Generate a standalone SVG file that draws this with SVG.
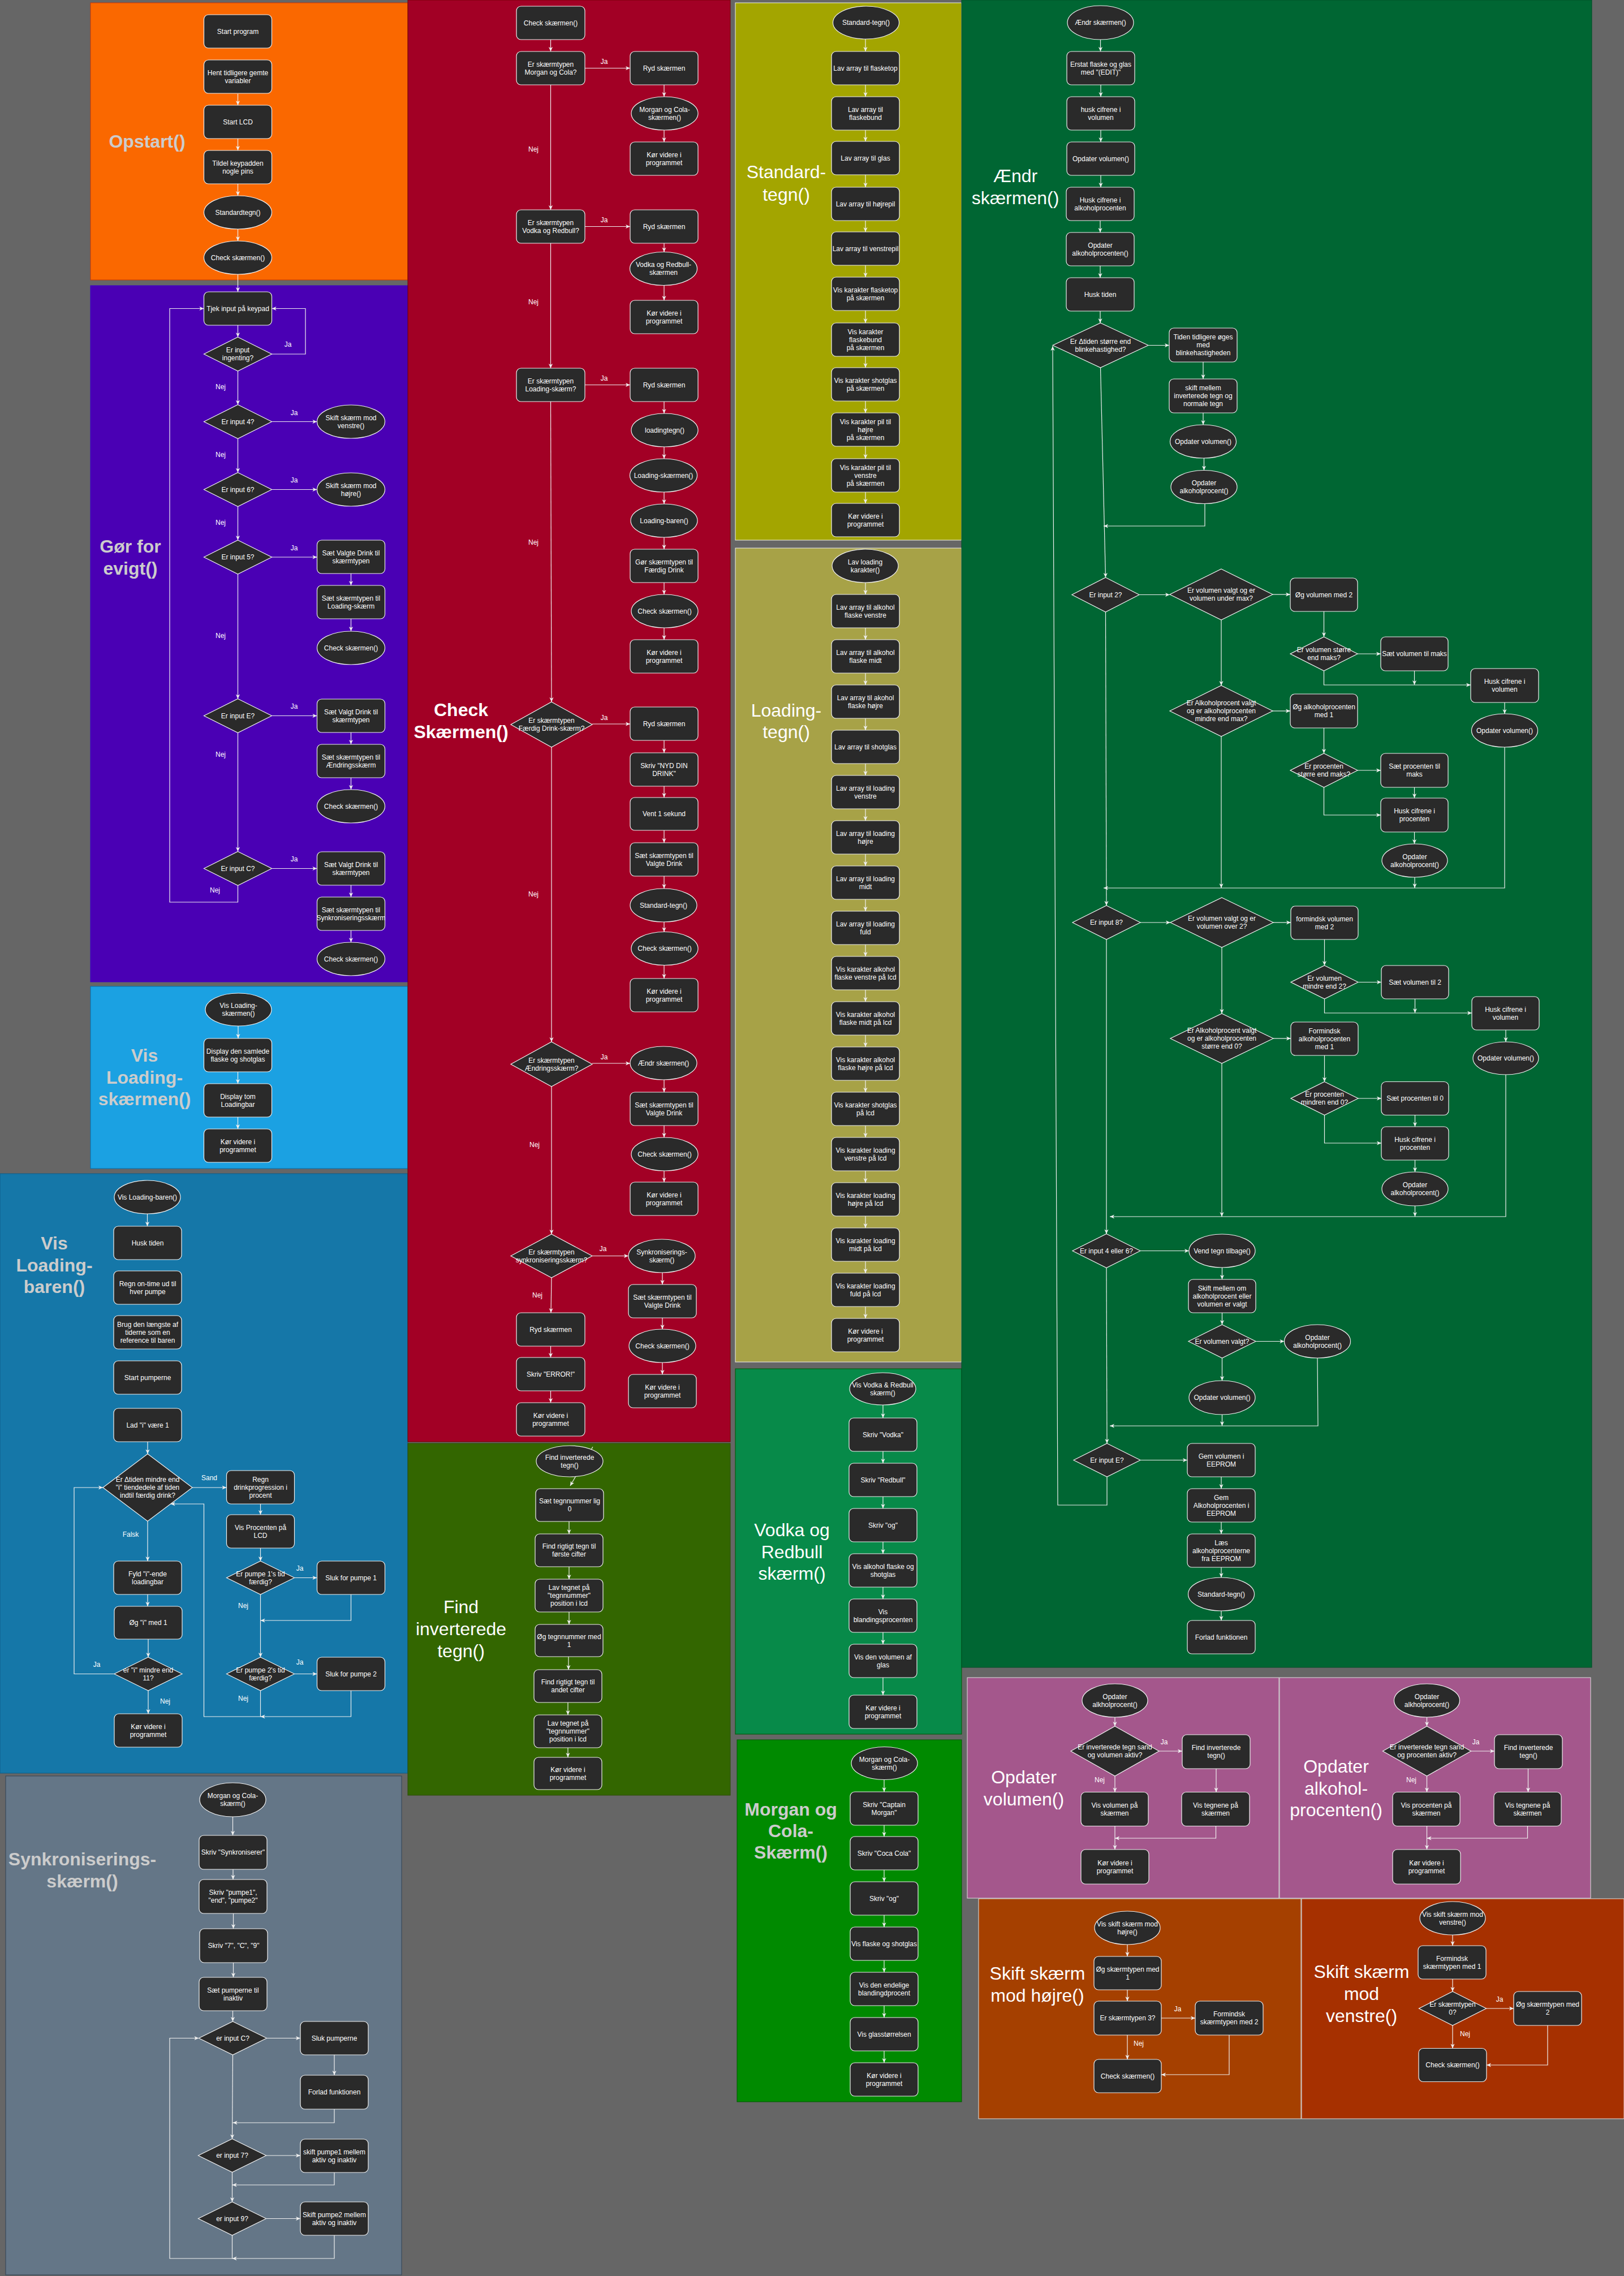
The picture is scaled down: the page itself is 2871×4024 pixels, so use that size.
<svg xmlns="http://www.w3.org/2000/svg" width="2871" height="4024" viewBox="0 0 2871 4024">
<defs>
<style>
.n{fill:#2a2a2a;stroke:#f0f0f0;stroke-width:1.2}
.t{font-family:"Liberation Sans",Arial,sans-serif;font-size:12px;fill:#ffffff;text-anchor:middle}
.lb{font-family:"Liberation Sans",Arial,sans-serif;font-size:12px;fill:#ffffff;text-anchor:middle}
.e{fill:none;stroke:#f0f0f0;stroke-width:1.2;marker-end:url(#a)}
.ti{font-family:"Liberation Sans",Arial,sans-serif;font-size:32px;text-anchor:middle}
.tg{font-weight:bold;fill:#cccccc}
.tw{fill:#ffffff}
.twb{font-weight:bold;fill:#ffffff}
</style>
<marker id="a" viewBox="0 0 10 10" refX="9" refY="5" markerWidth="9" markerHeight="9" markerUnits="userSpaceOnUse" orient="auto"><path d="M0,1 L9,5 L0,9 L2.5,5 z" fill="#f0f0f0"/></marker>
</defs>
<rect x="0" y="0" width="2871" height="4024" fill="#666666"/>
<g id="panels">
<rect x="160" y="5" width="561" height="490" fill="#FA6800" stroke="#C73500"/>
<rect x="160" y="505" width="561" height="1231" fill="#4A00B4" stroke="#3700CC"/>
<rect x="160" y="1744" width="561" height="322" fill="#1BA1E2" stroke="#006EAF"/>
<rect x="0" y="2075" width="721" height="1060" fill="#1577A8" stroke="#0E5C85"/>
<rect x="10" y="3140" width="700" height="882" fill="#647687" stroke="#314354"/>
<rect x="721" y="0" width="570" height="2549" fill="#A20025" stroke="#6F0000"/>
<rect x="721" y="2552" width="570" height="622" fill="#336600" stroke="#2D4C00"/>
<rect x="1300" y="5" width="400" height="950" fill="#A3A500" stroke="#f0f0f0"/>
<rect x="1300" y="969" width="400" height="1439" fill="#A7A247" stroke="#f0f0f0"/>
<rect x="1300" y="2420" width="400" height="646" fill="#078A49" stroke="#005700"/>
<rect x="1303" y="3076" width="397" height="640" fill="#008A00" stroke="#005700"/>
<rect x="1700" y="0" width="1114" height="2948" fill="#006633" stroke="#004D26"/>
<rect x="1710" y="2966" width="551" height="390" fill="#A4578C" stroke="#e0e0e0"/>
<rect x="2262" y="2966" width="550" height="390" fill="#A4578C" stroke="#e0e0e0"/>
<rect x="1730" y="3357" width="570" height="389" fill="#A54000" stroke="#e0e0e0"/>
<rect x="2301" y="3357" width="570" height="389" fill="#A63000" stroke="#e0e0e0"/>
</g>
<g id="titles">
<text class="ti tg" x="260" y="261">Opstart()</text>
<text class="ti tg" x="230.5" y="977">Gør for<tspan x="230.5" dy="39">evigt()</tspan></text>
<text class="ti tg" x="255.5" y="1877">Vis<tspan x="255.5" dy="38.5">Loading-</tspan><tspan x="255.5" dy="38.5">skærmen()</tspan></text>
<text class="ti tg" x="96" y="2209">Vis<tspan x="96" dy="38.5">Loading-</tspan><tspan x="96" dy="38.5">baren()</tspan></text>
<text class="ti tg" x="145.5" y="3298">Synkroniserings-<tspan x="145.5" dy="39">skærm()</tspan></text>
<text class="ti twb" x="815" y="1266">Check<tspan x="815" dy="39">Skærmen()</tspan></text>
<text class="ti tw" x="815" y="2852">Find<tspan x="815" dy="39">inverterede</tspan><tspan x="815" dy="39">tegn()</tspan></text>
<text class="ti tw" x="1390" y="315">Standard-<tspan x="1390" dy="40">tegn()</tspan></text>
<text class="ti tw" x="1390" y="1267">Loading-<tspan x="1390" dy="38">tegn()</tspan></text>
<text class="ti tw" x="1400" y="2716">Vodka og<tspan x="1400" dy="38.5">Redbull</tspan><tspan x="1400" dy="38.5">skærm()</tspan></text>
<text class="ti tg" x="1398" y="3210">Morgan og<tspan x="1398" dy="38">Cola-</tspan><tspan x="1398" dy="38">Skærm()</tspan></text>
<text class="ti tw" x="1795" y="322">Ændr<tspan x="1795" dy="39">skærmen()</tspan></text>
<text class="ti tw" x="1810" y="3153">Opdater<tspan x="1810" dy="39">volumen()</tspan></text>
<text class="ti tw" x="2362" y="3134">Opdater<tspan x="2362" dy="38.5">alkohol-</tspan><tspan x="2362" dy="38.5">procenten()</tspan></text>
<text class="ti tw" x="1834" y="3500">Skift skærm<tspan x="1834" dy="39">mod højre()</tspan></text>
<text class="ti tw" x="2407" y="3497">Skift skærm<tspan x="2407" dy="39">mod</tspan><tspan x="2407" dy="39">venstre()</tspan></text>
</g>
<g id="connectors">
<!-- Opstart -->
<path class="e" d="M420.5,166 V186"/>
<path class="e" d="M420.5,245 V266"/>
<path class="e" d="M420.5,325 V346"/>
<path class="e" d="M420.5,405 V426"/>
<path class="e" d="M420.5,485 V516"/>
<!-- Gør for evigt -->
<path class="e" d="M420.5,575 V596"/>
<path class="e" d="M480.5,626 H540 V545.5 H480.5"/>
<path class="e" d="M420.5,656 V715.5"/>
<path class="e" d="M480.5,745.5 H560.5"/>
<path class="e" d="M420.5,775.5 V835.5"/>
<path class="e" d="M480.5,865.5 H560.5"/>
<path class="e" d="M420.5,895.5 V955"/>
<path class="e" d="M480.5,985 H560.5"/>
<path class="e" d="M620.5,1014 V1035"/>
<path class="e" d="M620.5,1094 V1116"/>
<path class="e" d="M420.5,1015 V1235.5"/>
<path class="e" d="M480.5,1265.5 H560.5"/>
<path class="e" d="M620.5,1295 V1316"/>
<path class="e" d="M620.5,1375 V1396"/>
<path class="e" d="M420.5,1295.5 V1505.5"/>
<path class="e" d="M480.5,1535.5 H560.5"/>
<path class="e" d="M620.5,1565 V1586"/>
<path class="e" d="M620.5,1645 V1666"/>
<path class="e" d="M420.5,1565.5 V1595 H300 V545.5 H360.5"/>
<!-- Vis Loading-skaermen -->
<path class="e" d="M421,1814 V1836"/>
<path class="e" d="M420.5,1895 V1916"/>
<path class="e" d="M420.5,1975 V1996"/>
<!-- Vis Loading-baren -->
<path class="e" d="M260.5,2146 V2168"/>
<path class="e" d="M261,2549 V2570.5"/>
<path class="e" d="M340,2630 H400.5"/>
<path class="e" d="M460.5,2659 V2678"/>
<path class="e" d="M460.5,2737 V2760"/>
<path class="e" d="M520.5,2789.5 H560.5"/>
<path class="e" d="M620.5,2819 V2865 H460.5"/>
<path class="e" d="M460.5,2819 V2930"/>
<path class="e" d="M520.5,2959.5 H560.5"/>
<path class="e" d="M620.5,2989 V3035 H460.5"/>
<path class="e" d="M460.5,2989 V3035 H360.5 V2659 H301.5"/>
<path class="e" d="M261,2689.5 V2760"/>
<path class="e" d="M261,2819 V2840"/>
<path class="e" d="M262,2898 V2930"/>
<path class="e" d="M202,2959.5 H131 V2630 H182"/>
<path class="e" d="M262,2989 V3030"/>
<!-- Synkronisering -->
<path class="e" d="M411.5,3212 V3245"/>
<path class="e" d="M412,3305 V3323"/>
<path class="e" d="M412.5,3383 V3410"/>
<path class="e" d="M412.5,3470 V3496"/>
<path class="e" d="M411.5,3555 V3574"/>
<path class="e" d="M471.5,3603.5 H531"/>
<path class="e" d="M591,3633 V3669"/>
<path class="e" d="M591,3729 V3753 H411.5"/>
<path class="e" d="M411.5,3633 L410.5,3781.5"/>
<path class="e" d="M470.5,3811 H531"/>
<path class="e" d="M591,3841 V3863 H410.5"/>
<path class="e" d="M410.5,3840.5 V3893"/>
<path class="e" d="M470.5,3922.5 H531"/>
<path class="e" d="M591,3952 V3993 H410.5"/>
<path class="e" d="M410.5,3952 V3993 H300 V3603.5 H351.5"/>
<!-- Check skaermen -->
<path class="e" d="M973.5,70 V91"/>
<path class="e" d="M1034,120.5 H1114"/>
<path class="e" d="M1174,150 V171"/>
<path class="e" d="M1174,230 V251"/>
<path class="e" d="M973.5,150 V371"/>
<path class="e" d="M1034,400.5 H1114"/>
<path class="e" d="M1174,430 V445.5"/>
<path class="e" d="M1174,504.5 V531"/>
<path class="e" d="M973.5,430 V651"/>
<path class="e" d="M1034,680.5 H1114"/>
<path class="e" d="M1174,710 V731"/>
<path class="e" d="M1174,790 V811"/>
<path class="e" d="M1174,870 V891"/>
<path class="e" d="M1174,950 V971"/>
<path class="e" d="M1174,1030 V1051"/>
<path class="e" d="M1174,1110 V1131"/>
<path class="e" d="M973.5,710 L975,1241"/>
<path class="e" d="M1047,1280 H1114"/>
<path class="e" d="M1174,1309 V1331"/>
<path class="e" d="M1174,1390 V1410"/>
<path class="e" d="M1174,1468 V1490"/>
<path class="e" d="M1174,1549 V1571"/>
<path class="e" d="M1174,1630 V1647.5"/>
<path class="e" d="M1174,1706.5 V1730"/>
<path class="e" d="M975,1321 V1842"/>
<path class="e" d="M1047,1880 H1114"/>
<path class="e" d="M1174,1909 V1931"/>
<path class="e" d="M1174,1990 V2011"/>
<path class="e" d="M1174,2070 V2090"/>
<path class="e" d="M975,1921 V2182"/>
<path class="e" d="M1047,2220.5 H1111"/>
<path class="e" d="M1171,2250 V2271"/>
<path class="e" d="M1171,2330 V2350"/>
<path class="e" d="M1171,2409 V2430"/>
<path class="e" d="M975,2259 L974,2321"/>
<path class="e" d="M973.5,2380 V2400"/>
<path class="e" d="M973.5,2459 V2480"/>
<!-- Find inverterede -->
<path class="e" d="M1048,2558 L1008,2627"/>
<path class="e" d="M1006,2690 V2712"/>
<path class="e" d="M1006,2770 V2792"/>
<path class="e" d="M1006,2850 V2872"/>
<path class="e" d="M1005,2929 V2952"/>
<path class="e" d="M1004,3010 V3032"/>
<path class="e" d="M1004,3090 V3107"/>
<!-- Standard-tegn -->
<path class="e" d="M1530,69 V91"/>
<path class="e" d="M1530,150 V171"/>
<path class="e" d="M1530,230 V250"/>
<path class="e" d="M1530,309 V331"/>
<path class="e" d="M1530,390 V410"/>
<path class="e" d="M1530,469 V490"/>
<path class="e" d="M1530,549 V571"/>
<path class="e" d="M1530,630 V650"/>
<path class="e" d="M1530,709 V730"/>
<path class="e" d="M1530,789 V811"/>
<path class="e" d="M1530,870 V890"/>
<!-- Loading-tegn -->
<path class="e" d="M1530,1030 V1051"/>
<path class="e" d="M1530,1110 V1131"/>
<path class="e" d="M1530,1190 V1211"/>
<path class="e" d="M1530,1270 V1291"/>
<path class="e" d="M1530,1350 V1371"/>
<path class="e" d="M1530,1430 V1451"/>
<path class="e" d="M1530,1510 V1531"/>
<path class="e" d="M1530,1590 V1611"/>
<path class="e" d="M1530,1670 V1691"/>
<path class="e" d="M1530,1750 V1771"/>
<path class="e" d="M1530,1830 V1851"/>
<path class="e" d="M1530,1910 V1931"/>
<path class="e" d="M1530,1990 V2011"/>
<path class="e" d="M1530,2070 V2091"/>
<path class="e" d="M1530,2150 V2171"/>
<path class="e" d="M1530,2230 V2251"/>
<path class="e" d="M1530,2310 V2331"/>
<!-- Vodka -->
<path class="e" d="M1561,2484 V2507"/>
<path class="e" d="M1561,2566 V2587"/>
<path class="e" d="M1561,2646 V2667"/>
<path class="e" d="M1561,2726 V2747"/>
<path class="e" d="M1561,2806 V2827"/>
<path class="e" d="M1561,2886 V2907"/>
<path class="e" d="M1561,2966 V2997"/>
<!-- Morgan -->
<path class="e" d="M1563,3146.5 V3168"/>
<path class="e" d="M1563,3227 V3247"/>
<path class="e" d="M1563,3306 V3327"/>
<path class="e" d="M1563,3386 V3407"/>
<path class="e" d="M1563,3466 V3487"/>
<path class="e" d="M1563,3546 V3567"/>
<path class="e" d="M1563,3626 V3647"/>
<!-- Aendr -->
<path class="e" d="M1945.5,70 V91"/>
<path class="e" d="M1946,150 V171"/>
<path class="e" d="M1946,230 V251"/>
<path class="e" d="M1946,310 V331"/>
<path class="e" d="M1945,390 V411"/>
<path class="e" d="M1945,470 V491"/>
<path class="e" d="M1945,550 V571"/>
<path class="e" d="M2030,610.5 H2067"/>
<path class="e" d="M2127,640 V670"/>
<path class="e" d="M2127,730 V751"/>
<path class="e" d="M2128.5,810 V831.5"/>
<path class="e" d="M2130,890.5 V930 H1951"/>
<path class="e" d="M1945.5,650 L1954.5,1021"/>
<path class="e" d="M2014,1051.5 H2068"/>
<path class="e" d="M2250,1051 H2281"/>
<path class="e" d="M2340.5,1081 V1126"/>
<path class="e" d="M2400,1156 H2441"/>
<path class="e" d="M2340.5,1186 V1211 H2600"/>
<path class="e" d="M2500.5,1186 V1211"/>
<path class="e" d="M2660,1242 V1262"/>
<path class="e" d="M2660,1321 V1570 H1951"/>
<path class="e" d="M2159,1096 V1212"/>
<path class="e" d="M2250,1257 H2281"/>
<path class="e" d="M2340.5,1287 V1332"/>
<path class="e" d="M2400,1362 H2441"/>
<path class="e" d="M2500.5,1392 V1411"/>
<path class="e" d="M2340.5,1392 V1441 H2441"/>
<path class="e" d="M2500.5,1471 V1492"/>
<path class="e" d="M2501,1551 V1570"/>
<path class="e" d="M2159,1302 V1570"/>
<path class="e" d="M1954.5,1082 L1956,1601"/>
<path class="e" d="M2016,1631 H2069"/>
<path class="e" d="M2251,1631 H2282"/>
<path class="e" d="M2341.5,1661 V1707"/>
<path class="e" d="M2401,1736.5 H2442"/>
<path class="e" d="M2341.5,1766 V1791 H2602"/>
<path class="e" d="M2501.5,1766 V1791"/>
<path class="e" d="M2662,1821 V1842"/>
<path class="e" d="M2662,1900 V2151 H1962"/>
<path class="e" d="M2160,1675 V1792"/>
<path class="e" d="M2251,1836 H2282"/>
<path class="e" d="M2341.5,1866 V1912.5"/>
<path class="e" d="M2401,1942 H2442"/>
<path class="e" d="M2501.5,1971.5 V1992"/>
<path class="e" d="M2341.5,1971.5 V2021 H2442"/>
<path class="e" d="M2501.5,2051 V2072"/>
<path class="e" d="M2501.5,2132 V2151"/>
<path class="e" d="M2160,1880 V2151"/>
<path class="e" d="M1956,1661 V2181.5"/>
<path class="e" d="M2016,2211.5 H2102"/>
<path class="e" d="M2160.5,2241 V2262"/>
<path class="e" d="M2160.5,2321 V2342"/>
<path class="e" d="M2220,2371.5 H2270.5"/>
<path class="e" d="M2160.5,2401 V2441"/>
<path class="e" d="M2329,2401 L2330,2521 H1962"/>
<path class="e" d="M2160.5,2501 V2521"/>
<path class="e" d="M1956,2241.5 L1957,2552"/>
<path class="e" d="M2016,2581.5 H2099"/>
<path class="e" d="M2159,2611 V2632"/>
<path class="e" d="M2159,2691 V2712"/>
<path class="e" d="M2159,2771 V2789"/>
<path class="e" d="M2159,2848 V2865"/>
<path class="e" d="M1957,2611 V2661 H1870 L1861,612"/>
<!-- Opdater volumen -->
<path class="e" d="M1971,3036 V3052"/>
<path class="e" d="M2049,3096 H2090"/>
<path class="e" d="M2150,3127 V3168.5"/>
<path class="e" d="M1971,3140 V3168.5"/>
<path class="e" d="M2149.5,3228.5 V3250 H1971"/>
<path class="e" d="M1971,3228.5 V3270"/>
<!-- Opdater alkohol -->
<path class="e" d="M2522.5,3036 V3052"/>
<path class="e" d="M2600.5,3096 H2642"/>
<path class="e" d="M2701.5,3127 V3168.5"/>
<path class="e" d="M2522.5,3140 V3168.5"/>
<path class="e" d="M2700.5,3228.5 V3250 H2522.5"/>
<path class="e" d="M2522.5,3228.5 V3270"/>
<!-- Skift hoejre -->
<path class="e" d="M1993,3438 V3459"/>
<path class="e" d="M1993,3518 V3538"/>
<path class="e" d="M2053,3568 H2113"/>
<path class="e" d="M1993,3598 V3641"/>
<path class="e" d="M2173,3598 V3668 H2053"/>
<!-- Skift venstre -->
<path class="e" d="M2568,3421 V3440"/>
<path class="e" d="M2568,3499 V3521"/>
<path class="e" d="M2627.5,3551 H2676"/>
<path class="e" d="M2568,3581 V3621.5"/>
<path class="e" d="M2736,3581 V3651 H2628"/>
</g>
<g id="edge-labels">
<text class="lb" x="509" y="613">Ja</text>
<text class="lb" x="390" y="688">Nej</text>
<text class="lb" x="520" y="734">Ja</text>
<text class="lb" x="390" y="808">Nej</text>
<text class="lb" x="520" y="853">Ja</text>
<text class="lb" x="390" y="928">Nej</text>
<text class="lb" x="520" y="973">Ja</text>
<text class="lb" x="390" y="1128">Nej</text>
<text class="lb" x="520" y="1253">Ja</text>
<text class="lb" x="390" y="1338">Nej</text>
<text class="lb" x="520" y="1523">Ja</text>
<text class="lb" x="380" y="1578">Nej</text>
<text class="lb" x="370" y="2617">Sand</text>
<text class="lb" x="530" y="2777">Ja</text>
<text class="lb" x="430" y="2843">Nej</text>
<text class="lb" x="530" y="2943">Ja</text>
<text class="lb" x="430" y="3007">Nej</text>
<text class="lb" x="231" y="2717">Falsk</text>
<text class="lb" x="171" y="2947">Ja</text>
<text class="lb" x="292" y="3012">Nej</text>
<text class="lb" x="1068" y="113">Ja</text>
<text class="lb" x="943" y="268">Nej</text>
<text class="lb" x="1068" y="393">Ja</text>
<text class="lb" x="943" y="538">Nej</text>
<text class="lb" x="1068" y="673">Ja</text>
<text class="lb" x="943" y="963">Nej</text>
<text class="lb" x="1068" y="1273">Ja</text>
<text class="lb" x="943" y="1585">Nej</text>
<text class="lb" x="1068" y="1873">Ja</text>
<text class="lb" x="945" y="2028">Nej</text>
<text class="lb" x="1066" y="2212">Ja</text>
<text class="lb" x="950" y="2294">Nej</text>
<text class="lb" x="2058" y="3084">Ja</text>
<text class="lb" x="1944" y="3151">Nej</text>
<text class="lb" x="2609" y="3084">Ja</text>
<text class="lb" x="2495" y="3151">Nej</text>
<text class="lb" x="2082" y="3556">Ja</text>
<text class="lb" x="2013" y="3617">Nej</text>
<text class="lb" x="2651" y="3539">Ja</text>
<text class="lb" x="2590" y="3600">Nej</text>
</g>
<!-- Opstart nodes -->
<g id="op1"><rect class="n" x="360.5" y="26" width="120" height="59" rx="8"/><text class="t" x="420.5" y="59.5">Start program</text></g>
<g id="op2"><rect class="n" x="360.5" y="106" width="120" height="59" rx="8"/><text class="t" x="420.5" y="132.5">Hent tidligere gemte<tspan x="420.5" dy="14">variabler</tspan></text></g>
<g id="op3"><rect class="n" x="360.5" y="186" width="120" height="59" rx="8"/><text class="t" x="420.5" y="219.5">Start LCD</text></g>
<g id="op4"><rect class="n" x="360.5" y="266" width="120" height="59" rx="8"/><text class="t" x="420.5" y="292.5">Tildel keypadden<tspan x="420.5" dy="14">nogle pins</tspan></text></g>
<g id="op5"><ellipse class="n" cx="420.5" cy="375.5" rx="60" ry="29.5"/><text class="t" x="420.5" y="379.5">Standardtegn()</text></g>
<g id="op6"><ellipse class="n" cx="420.5" cy="455.5" rx="60" ry="29.5"/><text class="t" x="420.5" y="459.5">Check skærmen()</text></g>
<!-- Gør for evigt -->
<g id="g1"><rect class="n" x="360.5" y="516" width="120" height="59" rx="8"/><text class="t" x="420.5" y="549.5">Tjek input på keypad</text></g>
<g id="g2"><polygon class="n" points="420.5,596 480.5,626 420.5,656 360.5,626"/><text class="t" x="420.5" y="623">Er input<tspan x="420.5" dy="14">ingenting?</tspan></text></g>
<g id="g3"><polygon class="n" points="420.5,715.5 480.5,745.5 420.5,775.5 360.5,745.5"/><text class="t" x="420.5" y="749.5">Er input 4?</text></g>
<g id="g4"><ellipse class="n" cx="620.5" cy="745.5" rx="60" ry="29.5"/><text class="t" x="620.5" y="742.5">Skift skærm mod<tspan x="620.5" dy="14">venstre()</tspan></text></g>
<g id="g5"><polygon class="n" points="420.5,835.5 480.5,865.5 420.5,895.5 360.5,865.5"/><text class="t" x="420.5" y="869.5">Er input 6?</text></g>
<g id="g6"><ellipse class="n" cx="620.5" cy="865.5" rx="60" ry="29.5"/><text class="t" x="620.5" y="862.5">Skift skærm mod<tspan x="620.5" dy="14">højre()</tspan></text></g>
<g id="g7"><polygon class="n" points="420.5,955 480.5,985 420.5,1015 360.5,985"/><text class="t" x="420.5" y="989">Er input 5?</text></g>
<g id="g8"><rect class="n" x="560.5" y="955" width="120" height="59" rx="8"/><text class="t" x="620.5" y="981.5">Sæt Valgte Drink til<tspan x="620.5" dy="14">skærmtypen</tspan></text></g>
<g id="g9"><rect class="n" x="560.5" y="1035" width="120" height="59" rx="8"/><text class="t" x="620.5" y="1061.5">Sæt skærmtypen til<tspan x="620.5" dy="14">Loading-skærm</tspan></text></g>
<g id="g10"><ellipse class="n" cx="620.5" cy="1145.5" rx="60" ry="29.5"/><text class="t" x="620.5" y="1149.5">Check skærmen()</text></g>
<g id="g11"><polygon class="n" points="420.5,1235.5 480.5,1265.5 420.5,1295.5 360.5,1265.5"/><text class="t" x="420.5" y="1269.5">Er input E?</text></g>
<g id="g12"><rect class="n" x="560.5" y="1236" width="120" height="59" rx="8"/><text class="t" x="620.5" y="1262.5">Sæt Valgt Drink til<tspan x="620.5" dy="14">skærmtypen</tspan></text></g>
<g id="g13"><rect class="n" x="560.5" y="1316" width="120" height="59" rx="8"/><text class="t" x="620.5" y="1342.5">Sæt skærmtypen til<tspan x="620.5" dy="14">Ændringsskærm</tspan></text></g>
<g id="g14"><ellipse class="n" cx="620.5" cy="1425.5" rx="60" ry="29.5"/><text class="t" x="620.5" y="1429.5">Check skærmen()</text></g>
<g id="g15"><polygon class="n" points="420.5,1505.5 480.5,1535.5 420.5,1565.5 360.5,1535.5"/><text class="t" x="420.5" y="1539.5">Er input C?</text></g>
<g id="g16"><rect class="n" x="560.5" y="1506" width="120" height="59" rx="8"/><text class="t" x="620.5" y="1532.5">Sæt Valgt Drink til<tspan x="620.5" dy="14">skærmtypen</tspan></text></g>
<g id="g17"><rect class="n" x="560.5" y="1586" width="120" height="59" rx="8"/><text class="t" x="620.5" y="1612.5">Sæt skærmtypen til<tspan x="620.5" dy="14">Synkroniseringsskærm</tspan></text></g>
<g id="g18"><ellipse class="n" cx="620.5" cy="1695.5" rx="60" ry="29.5"/><text class="t" x="620.5" y="1699.5">Check skærmen()</text></g>
<!-- Vis Loading-skærmen -->
<g id="vl1"><ellipse class="n" cx="421.5" cy="1785" rx="58.5" ry="29"/><text class="t" x="421.5" y="1782">Vis Loading-<tspan x="421.5" dy="14">skærmen()</tspan></text></g>
<g id="vl2"><rect class="n" x="360.5" y="1836" width="120" height="59" rx="8"/><text class="t" x="420.5" y="1862.5">Display den samlede<tspan x="420.5" dy="14">flaske og shotglas</tspan></text></g>
<g id="vl3"><rect class="n" x="360.5" y="1916" width="120" height="59" rx="8"/><text class="t" x="420.5" y="1942.5">Display tom<tspan x="420.5" dy="14">Loadingbar</tspan></text></g>
<g id="vl4"><rect class="n" x="360.5" y="1996" width="120" height="59" rx="8"/><text class="t" x="420.5" y="2022.5">Kør videre i<tspan x="420.5" dy="14">programmet</tspan></text></g>
<!-- Vis Loading-baren -->
<g id="lb1"><ellipse class="n" cx="260.5" cy="2116.5" rx="58.5" ry="29.5"/><text class="t" x="260.5" y="2120.5">Vis Loading-baren()</text></g>
<g id="lb2"><rect class="n" x="201" y="2168" width="120" height="59" rx="8"/><text class="t" x="261" y="2201.5">Husk tiden</text></g>
<g id="lb3"><rect class="n" x="201" y="2247" width="120" height="59" rx="8"/><text class="t" x="261" y="2273.5">Regn on-time ud til<tspan x="261" dy="14">hver pumpe</tspan></text></g>
<g id="lb4"><rect class="n" x="201" y="2326" width="120" height="59" rx="8"/><text class="t" x="261" y="2345.5">Brug den længste af<tspan x="261" dy="14">tiderne som en</tspan><tspan x="261" dy="14">reference til baren</tspan></text></g>
<g id="lb5"><rect class="n" x="201" y="2406" width="120" height="59" rx="8"/><text class="t" x="261" y="2439.5">Start pumperne</text></g>
<g id="lb6"><rect class="n" x="201" y="2490" width="120" height="59" rx="8"/><text class="t" x="261" y="2523.5">Lad "i" være 1</text></g>
<g id="lb7"><polygon class="n" points="261,2570.5 340,2630 261,2689.5 182,2630"/><text class="t" x="261" y="2620">Er Δtiden mindre end<tspan x="261" dy="14">"i" tiendedele af tiden</tspan><tspan x="261" dy="14">indtil færdig drink?</tspan></text></g>
<g id="lb8"><rect class="n" x="400.5" y="2600" width="120" height="59" rx="8"/><text class="t" x="460.5" y="2619.5">Regn<tspan x="460.5" dy="14">drinkprogression i</tspan><tspan x="460.5" dy="14">procent</tspan></text></g>
<g id="lb9"><rect class="n" x="400.5" y="2678" width="120" height="59" rx="8"/><text class="t" x="460.5" y="2704.5">Vis Procenten på<tspan x="460.5" dy="14">LCD</tspan></text></g>
<g id="lb10"><polygon class="n" points="460.5,2760 520.5,2789.5 460.5,2819 400.5,2789.5"/><text class="t" x="460.5" y="2786.5">Er pumpe 1's tid<tspan x="460.5" dy="14">færdig?</tspan></text></g>
<g id="lb11"><rect class="n" x="560.5" y="2760" width="120" height="59" rx="8"/><text class="t" x="620.5" y="2793.5">Sluk for pumpe 1</text></g>
<g id="lb12"><polygon class="n" points="460.5,2930 520.5,2959.5 460.5,2989 400.5,2959.5"/><text class="t" x="460.5" y="2956.5">Er pumpe 2's tid<tspan x="460.5" dy="14">færdig?</tspan></text></g>
<g id="lb13"><rect class="n" x="560.5" y="2930" width="120" height="59" rx="8"/><text class="t" x="620.5" y="2963.5">Sluk for pumpe 2</text></g>
<g id="lb14"><rect class="n" x="201" y="2760" width="120" height="59" rx="8"/><text class="t" x="261" y="2786.5">Fyld "i"-ende<tspan x="261" dy="14">loadingbar</tspan></text></g>
<g id="lb15"><rect class="n" x="202" y="2840" width="120" height="58" rx="8"/><text class="t" x="262" y="2873">Øg "i" med 1</text></g>
<g id="lb16"><polygon class="n" points="262,2930 322,2959.5 262,2989 202,2959.5"/><text class="t" x="262" y="2956.5">er "i" mindre end<tspan x="262" dy="14">11?</tspan></text></g>
<g id="lb17"><rect class="n" x="202" y="3030" width="120" height="59" rx="8"/><text class="t" x="262" y="3056.5">Kør videre i<tspan x="262" dy="14">programmet</tspan></text></g>
<!-- Synkronisering -->
<g id="s1"><ellipse class="n" cx="411.5" cy="3182" rx="58.5" ry="30"/><text class="t" x="411.5" y="3179">Morgan og Cola-<tspan x="411.5" dy="14">skærm()</tspan></text></g>
<g id="s2"><rect class="n" x="352" y="3245" width="120" height="60" rx="8"/><text class="t" x="412" y="3279">Skriv "Synkroniserer"</text></g>
<g id="s3"><rect class="n" x="352" y="3323" width="120" height="60" rx="8"/><text class="t" x="412" y="3350">Skriv "pumpe1",<tspan x="412" dy="14">"end", "pumpe2"</tspan></text></g>
<g id="s4"><rect class="n" x="353" y="3410" width="120" height="60" rx="8"/><text class="t" x="413" y="3444">Skriv "7", "C", "9"</text></g>
<g id="s5"><rect class="n" x="352" y="3496" width="120" height="59" rx="8"/><text class="t" x="412" y="3522.5">Sæt pumperne til<tspan x="412" dy="14">inaktiv</tspan></text></g>
<g id="s6"><polygon class="n" points="411.5,3574 471.5,3603.5 411.5,3633 351.5,3603.5"/><text class="t" x="411.5" y="3607.5">er input C?</text></g>
<g id="s7"><rect class="n" x="531" y="3574" width="120" height="59" rx="8"/><text class="t" x="591" y="3607.5">Sluk pumperne</text></g>
<g id="s8"><rect class="n" x="531" y="3669" width="120" height="60" rx="8"/><text class="t" x="591" y="3703">Forlad funktionen</text></g>
<g id="s9"><polygon class="n" points="410.5,3781.5 470.5,3811 410.5,3840.5 350.5,3811"/><text class="t" x="410.5" y="3815">er input 7?</text></g>
<g id="s10"><rect class="n" x="531" y="3782" width="120" height="59" rx="8"/><text class="t" x="591" y="3808.5">skift pumpe1 mellem<tspan x="591" dy="14">aktiv og inaktiv</tspan></text></g>
<g id="s11"><polygon class="n" points="410.5,3893 470.5,3922.5 410.5,3952 350.5,3922.5"/><text class="t" x="410.5" y="3926.5">er input 9?</text></g>
<g id="s12"><rect class="n" x="531" y="3893" width="120" height="59" rx="8"/><text class="t" x="591" y="3919.5">Skift pumpe2 mellem<tspan x="591" dy="14">aktiv og inaktiv</tspan></text></g>
<!-- Check skærmen -->
<g id="c1"><rect class="n" x="913" y="11" width="121" height="59" rx="8"/><text class="t" x="973.5" y="44.5">Check skærmen()</text></g>
<g id="c2"><rect class="n" x="913" y="91" width="121" height="59" rx="8"/><text class="t" x="973.5" y="117.5">Er skærmtypen<tspan x="973.5" dy="14">Morgan og Cola?</tspan></text></g>
<g id="c3"><rect class="n" x="1114" y="91" width="120" height="59" rx="8"/><text class="t" x="1174" y="124.5">Ryd skærmen</text></g>
<g id="c4"><ellipse class="n" cx="1175" cy="200.5" rx="59" ry="29.5"/><text class="t" x="1175" y="197.5">Morgan og Cola-<tspan x="1175" dy="14">skærmen()</tspan></text></g>
<g id="c5"><rect class="n" x="1114" y="251" width="120" height="59" rx="8"/><text class="t" x="1174" y="277.5">Kør videre i<tspan x="1174" dy="14">programmet</tspan></text></g>
<g id="c6"><rect class="n" x="913" y="371" width="121" height="59" rx="8"/><text class="t" x="973.5" y="397.5">Er skærmtypen<tspan x="973.5" dy="14">Vodka og Redbull?</tspan></text></g>
<g id="c7"><rect class="n" x="1114" y="371" width="120" height="59" rx="8"/><text class="t" x="1174" y="404.5">Ryd skærmen</text></g>
<g id="c8"><ellipse class="n" cx="1173" cy="475" rx="59.5" ry="29.5"/><text class="t" x="1173" y="472">Vodka og Redbull-<tspan x="1173" dy="14">skærmen</tspan></text></g>
<g id="c9"><rect class="n" x="1114" y="531" width="120" height="59" rx="8"/><text class="t" x="1174" y="557.5">Kør videre i<tspan x="1174" dy="14">programmet</tspan></text></g>
<g id="c10"><rect class="n" x="913" y="651" width="121" height="59" rx="8"/><text class="t" x="973.5" y="677.5">Er skærmtypen<tspan x="973.5" dy="14">Loading-skærm?</tspan></text></g>
<g id="c11"><rect class="n" x="1114" y="651" width="120" height="59" rx="8"/><text class="t" x="1174" y="684.5">Ryd skærmen</text></g>
<g id="c12"><ellipse class="n" cx="1175" cy="760.5" rx="59" ry="29.5"/><text class="t" x="1175" y="764.5">loadingtegn()</text></g>
<g id="c13"><ellipse class="n" cx="1173" cy="840.5" rx="59.5" ry="29.5"/><text class="t" x="1173" y="844.5">Loading-skærmen()</text></g>
<g id="c14"><ellipse class="n" cx="1174" cy="920.5" rx="59" ry="29.5"/><text class="t" x="1174" y="924.5">Loading-baren()</text></g>
<g id="c15"><rect class="n" x="1114" y="971" width="120" height="59" rx="8"/><text class="t" x="1174" y="997.5">Gør skærmtypen til<tspan x="1174" dy="14">Færdig Drink</tspan></text></g>
<g id="c16"><ellipse class="n" cx="1175" cy="1080.5" rx="59" ry="29.5"/><text class="t" x="1175" y="1084.5">Check skærmen()</text></g>
<g id="c17"><rect class="n" x="1114" y="1131" width="120" height="59" rx="8"/><text class="t" x="1174" y="1157.5">Kør videre i<tspan x="1174" dy="14">programmet</tspan></text></g>
<g id="c18"><polygon class="n" points="975,1241 1047,1281 975,1321 903,1281"/><text class="t" x="975" y="1278">Er skærmtypen<tspan x="975" dy="14">Færdig Drink-skærm?</tspan></text></g>
<g id="c19"><rect class="n" x="1114" y="1250" width="120" height="59" rx="8"/><text class="t" x="1174" y="1283.5">Ryd skærmen</text></g>
<g id="c20"><rect class="n" x="1114" y="1331" width="120" height="59" rx="8"/><text class="t" x="1174" y="1357.5">Skriv "NYD DIN<tspan x="1174" dy="14">DRINK"</tspan></text></g>
<g id="c21"><rect class="n" x="1114" y="1410" width="120" height="58" rx="8"/><text class="t" x="1174" y="1443">Vent 1 sekund</text></g>
<g id="c22"><rect class="n" x="1114" y="1490" width="120" height="59" rx="8"/><text class="t" x="1174" y="1516.5">Sæt skærmtypen til<tspan x="1174" dy="14">Valgte Drink</tspan></text></g>
<g id="c23"><ellipse class="n" cx="1173" cy="1600.5" rx="59" ry="29.5"/><text class="t" x="1173" y="1604.5">Standard-tegn()</text></g>
<g id="c24"><ellipse class="n" cx="1175" cy="1677" rx="59" ry="29.5"/><text class="t" x="1175" y="1681">Check skærmen()</text></g>
<g id="c25"><rect class="n" x="1114" y="1730" width="120" height="59" rx="8"/><text class="t" x="1174" y="1756.5">Kør videre i<tspan x="1174" dy="14">programmet</tspan></text></g>
<g id="c26"><polygon class="n" points="975,1842 1047,1881.5 975,1921 903,1881.5"/><text class="t" x="975" y="1878.5">Er skærmtypen<tspan x="975" dy="14">Ændringsskærm?</tspan></text></g>
<g id="c27"><ellipse class="n" cx="1173" cy="1879.5" rx="59" ry="29.5"/><text class="t" x="1173" y="1883.5">Ændr skærmen()</text></g>
<g id="c28"><rect class="n" x="1114" y="1931" width="120" height="59" rx="8"/><text class="t" x="1174" y="1957.5">Sæt skærmtypen til<tspan x="1174" dy="14">Valgte Drink</tspan></text></g>
<g id="c29"><ellipse class="n" cx="1175" cy="2040.5" rx="59" ry="29.5"/><text class="t" x="1175" y="2044.5">Check skærmen()</text></g>
<g id="c30"><rect class="n" x="1114" y="2090" width="120" height="59" rx="8"/><text class="t" x="1174" y="2116.5">Kør videre i<tspan x="1174" dy="14">programmet</tspan></text></g>
<g id="c31"><polygon class="n" points="975,2182 1047,2220.5 975,2259 903,2220.5"/><text class="t" x="975" y="2217.5">Er skærmtypen<tspan x="975" dy="14">synkroniseringsskærm?</tspan></text></g>
<g id="c32"><ellipse class="n" cx="1170" cy="2220.5" rx="59" ry="29.5"/><text class="t" x="1170" y="2217.5">Synkroniserings-<tspan x="1170" dy="14">skærm()</tspan></text></g>
<g id="c33"><rect class="n" x="1111" y="2271" width="120" height="59" rx="8"/><text class="t" x="1171" y="2297.5">Sæt skærmtypen til<tspan x="1171" dy="14">Valgte Drink</tspan></text></g>
<g id="c34"><ellipse class="n" cx="1171" cy="2379.5" rx="59" ry="29.5"/><text class="t" x="1171" y="2383.5">Check skærmen()</text></g>
<g id="c35"><rect class="n" x="1111" y="2430" width="120" height="59" rx="8"/><text class="t" x="1171" y="2456.5">Kør videre i<tspan x="1171" dy="14">programmet</tspan></text></g>
<g id="c36"><rect class="n" x="913" y="2321" width="121" height="59" rx="8"/><text class="t" x="973.5" y="2354.5">Ryd skærmen</text></g>
<g id="c37"><rect class="n" x="913" y="2400" width="121" height="59" rx="8"/><text class="t" x="973.5" y="2433.5">Skriv "ERROR!"</text></g>
<g id="c38"><rect class="n" x="913" y="2480" width="121" height="59" rx="8"/><text class="t" x="973.5" y="2506.5">Kør videre i<tspan x="973.5" dy="14">programmet</tspan></text></g>
<!-- Find inverterede tegn -->
<g id="f1"><ellipse class="n" cx="1007" cy="2583.5" rx="59" ry="27.5"/><text class="t" x="1007" y="2580.5">Find inverterede<tspan x="1007" dy="14">tegn()</tspan></text></g>
<g id="f2"><rect class="n" x="947" y="2632" width="120" height="58" rx="8"/><text class="t" x="1007" y="2658">Sæt tegnnummer lig<tspan x="1007" dy="14">0</tspan></text></g>
<g id="f3"><rect class="n" x="946" y="2712" width="120" height="58" rx="8"/><text class="t" x="1006" y="2738">Find rigtigt tegn til<tspan x="1006" dy="14">første cifter</tspan></text></g>
<g id="f4"><rect class="n" x="946" y="2792" width="120" height="58" rx="8"/><text class="t" x="1006" y="2811">Lav tegnet på<tspan x="1006" dy="14">"tegnnummer"</tspan><tspan x="1006" dy="14">position i lcd</tspan></text></g>
<g id="f5"><rect class="n" x="946" y="2872" width="120" height="57" rx="8"/><text class="t" x="1006" y="2897.5">Øg tegnnummer med<tspan x="1006" dy="14">1</tspan></text></g>
<g id="f6"><rect class="n" x="944" y="2952" width="120" height="58" rx="8"/><text class="t" x="1004" y="2978">Find rigtigt tegn til<tspan x="1004" dy="14">andet cifter</tspan></text></g>
<g id="f7"><rect class="n" x="944" y="3032" width="120" height="58" rx="8"/><text class="t" x="1004" y="3051">Lav tegnet på<tspan x="1004" dy="14">"tegnnummer"</tspan><tspan x="1004" dy="14">position i lcd</tspan></text></g>
<g id="f8"><rect class="n" x="944" y="3107" width="120" height="57" rx="8"/><text class="t" x="1004" y="3132.5">Kør videre i<tspan x="1004" dy="14">programmet</tspan></text></g>
<!-- Standard-tegn -->
<g id="st0"><ellipse class="n" cx="1531" cy="40" rx="58.5" ry="29"/><text class="t" x="1531" y="44">Standard-tegn()</text></g>
<g id="st1"><rect class="n" x="1470" y="91" width="120" height="59" rx="8"/><text class="t" x="1530" y="124.5">Lav array til flasketop</text></g>
<g id="st2"><rect class="n" x="1470" y="171" width="120" height="59" rx="8"/><text class="t" x="1530" y="197.5">Lav array til<tspan x="1530" dy="14">flaskebund</tspan></text></g>
<g id="st3"><rect class="n" x="1470" y="250" width="120" height="59" rx="8"/><text class="t" x="1530" y="283.5">Lav array til glas</text></g>
<g id="st4"><rect class="n" x="1470" y="331" width="120" height="59" rx="8"/><text class="t" x="1530" y="364.5">Lav array til højrepil</text></g>
<g id="st5"><rect class="n" x="1470" y="410" width="120" height="59" rx="8"/><text class="t" x="1530" y="443.5">Lav array til venstrepil</text></g>
<g id="st6"><rect class="n" x="1470" y="490" width="120" height="59" rx="8"/><text class="t" x="1530" y="516.5">Vis karakter flasketop<tspan x="1530" dy="14">på skærmen</tspan></text></g>
<g id="st7"><rect class="n" x="1470" y="571" width="120" height="59" rx="8"/><text class="t" x="1530" y="590.5">Vis karakter<tspan x="1530" dy="14">flaskebund</tspan><tspan x="1530" dy="14">på skærmen</tspan></text></g>
<g id="st8"><rect class="n" x="1470" y="650" width="120" height="59" rx="8"/><text class="t" x="1530" y="676.5">Vis karakter shotglas<tspan x="1530" dy="14">på skærmen</tspan></text></g>
<g id="st9"><rect class="n" x="1470" y="730" width="120" height="59" rx="8"/><text class="t" x="1530" y="749.5">Vis karakter pil til<tspan x="1530" dy="14">højre</tspan><tspan x="1530" dy="14">på skærmen</tspan></text></g>
<g id="st10"><rect class="n" x="1470" y="811" width="120" height="59" rx="8"/><text class="t" x="1530" y="830.5">Vis karakter pil til<tspan x="1530" dy="14">venstre</tspan><tspan x="1530" dy="14">på skærmen</tspan></text></g>
<g id="st11"><rect class="n" x="1470" y="890" width="120" height="59" rx="8"/><text class="t" x="1530" y="916.5">Kør videre i<tspan x="1530" dy="14">programmet</tspan></text></g>
<!-- Loading-tegn -->
<g id="lt0"><ellipse class="n" cx="1529.5" cy="1000.5" rx="58.5" ry="29.5"/><text class="t" x="1529.5" y="997.5">Lav loading<tspan x="1529.5" dy="14">karakter()</tspan></text></g>
<g id="lt1"><rect class="n" x="1470" y="1051" width="120" height="59" rx="8"/><text class="t" x="1530" y="1077.5">Lav array til alkohol<tspan x="1530" dy="14">flaske venstre</tspan></text></g>
<g id="lt2"><rect class="n" x="1470" y="1131" width="120" height="59" rx="8"/><text class="t" x="1530" y="1157.5">Lav array til alkohol<tspan x="1530" dy="14">flaske midt</tspan></text></g>
<g id="lt3"><rect class="n" x="1470" y="1211" width="120" height="59" rx="8"/><text class="t" x="1530" y="1237.5">Lav array til akohol<tspan x="1530" dy="14">flaske højre</tspan></text></g>
<g id="lt4"><rect class="n" x="1470" y="1291" width="120" height="59" rx="8"/><text class="t" x="1530" y="1324.5">Lav array til shotglas</text></g>
<g id="lt5"><rect class="n" x="1470" y="1371" width="120" height="59" rx="8"/><text class="t" x="1530" y="1397.5">Lav array til loading<tspan x="1530" dy="14">venstre</tspan></text></g>
<g id="lt6"><rect class="n" x="1470" y="1451" width="120" height="59" rx="8"/><text class="t" x="1530" y="1477.5">Lav array til loading<tspan x="1530" dy="14">højre</tspan></text></g>
<g id="lt7"><rect class="n" x="1470" y="1531" width="120" height="59" rx="8"/><text class="t" x="1530" y="1557.5">Lav array til loading<tspan x="1530" dy="14">midt</tspan></text></g>
<g id="lt8"><rect class="n" x="1470" y="1611" width="120" height="59" rx="8"/><text class="t" x="1530" y="1637.5">Lav array til loading<tspan x="1530" dy="14">fuld</tspan></text></g>
<g id="lt9"><rect class="n" x="1470" y="1691" width="120" height="59" rx="8"/><text class="t" x="1530" y="1717.5">Vis karakter alkohol<tspan x="1530" dy="14">flaske venstre på lcd</tspan></text></g>
<g id="lt10"><rect class="n" x="1470" y="1771" width="120" height="59" rx="8"/><text class="t" x="1530" y="1797.5">Vis karakter alkohol<tspan x="1530" dy="14">flaske midt på lcd</tspan></text></g>
<g id="lt11"><rect class="n" x="1470" y="1851" width="120" height="59" rx="8"/><text class="t" x="1530" y="1877.5">Vis karakter alkohol<tspan x="1530" dy="14">flaske højre på lcd</tspan></text></g>
<g id="lt12"><rect class="n" x="1470" y="1931" width="120" height="59" rx="8"/><text class="t" x="1530" y="1957.5">Vis karakter shotglas<tspan x="1530" dy="14">på lcd</tspan></text></g>
<g id="lt13"><rect class="n" x="1470" y="2011" width="120" height="59" rx="8"/><text class="t" x="1530" y="2037.5">Vis karakter loading<tspan x="1530" dy="14">venstre på lcd</tspan></text></g>
<g id="lt14"><rect class="n" x="1470" y="2091" width="120" height="59" rx="8"/><text class="t" x="1530" y="2117.5">Vis karakter loading<tspan x="1530" dy="14">højre på lcd</tspan></text></g>
<g id="lt15"><rect class="n" x="1470" y="2171" width="120" height="59" rx="8"/><text class="t" x="1530" y="2197.5">Vis karakter loading<tspan x="1530" dy="14">midt  på lcd</tspan></text></g>
<g id="lt16"><rect class="n" x="1470" y="2251" width="120" height="59" rx="8"/><text class="t" x="1530" y="2277.5">Vis karakter loading<tspan x="1530" dy="14">fuld på lcd</tspan></text></g>
<g id="lt17"><rect class="n" x="1470" y="2331" width="120" height="59" rx="8"/><text class="t" x="1530" y="2357.5">Kør videre i<tspan x="1530" dy="14">programmet</tspan></text></g>
<!-- Vodka og Redbull -->
<g id="v0"><ellipse class="n" cx="1560.5" cy="2455.5" rx="58.5" ry="28.5"/><text class="t" x="1560.5" y="2452.5">Vis Vodka &amp; Redbull<tspan x="1560.5" dy="14">skærm()</tspan></text></g>
<g id="v1"><rect class="n" x="1501" y="2507" width="120" height="59" rx="8"/><text class="t" x="1561" y="2540.5">Skriv "Vodka"</text></g>
<g id="v2"><rect class="n" x="1501" y="2587" width="120" height="59" rx="8"/><text class="t" x="1561" y="2620.5">Skriv "Redbull"</text></g>
<g id="v3"><rect class="n" x="1501" y="2667" width="120" height="59" rx="8"/><text class="t" x="1561" y="2700.5">Skriv "og"</text></g>
<g id="v4"><rect class="n" x="1501" y="2747" width="120" height="59" rx="8"/><text class="t" x="1561" y="2773.5">Vis alkohol flaske og<tspan x="1561" dy="14">shotglas</tspan></text></g>
<g id="v5"><rect class="n" x="1501" y="2827" width="120" height="59" rx="8"/><text class="t" x="1561" y="2853.5">Vis<tspan x="1561" dy="14">blandingsprocenten</tspan></text></g>
<g id="v6"><rect class="n" x="1501" y="2907" width="120" height="59" rx="8"/><text class="t" x="1561" y="2933.5">Vis den volumen af<tspan x="1561" dy="14">glas</tspan></text></g>
<g id="v7"><rect class="n" x="1501" y="2997" width="120" height="59" rx="8"/><text class="t" x="1561" y="3023.5">Kør videre i<tspan x="1561" dy="14">programmet</tspan></text></g>
<!-- Morgan og Cola -->
<g id="m0"><ellipse class="n" cx="1563.5" cy="3117.5" rx="58.5" ry="29"/><text class="t" x="1563.5" y="3114.5">Morgan og Cola-<tspan x="1563.5" dy="14">skærm()</tspan></text></g>
<g id="m1"><rect class="n" x="1503" y="3168" width="120" height="59" rx="8"/><text class="t" x="1563" y="3194.5">Skriv "Captain<tspan x="1563" dy="14">Morgan"</tspan></text></g>
<g id="m2"><rect class="n" x="1503" y="3247" width="120" height="59" rx="8"/><text class="t" x="1563" y="3280.5">Skriv "Coca Cola"</text></g>
<g id="m3"><rect class="n" x="1503" y="3327" width="120" height="59" rx="8"/><text class="t" x="1563" y="3360.5">Skriv "og"</text></g>
<g id="m4"><rect class="n" x="1503" y="3407" width="120" height="59" rx="8"/><text class="t" x="1563" y="3440.5">Vis flaske og shotglas</text></g>
<g id="m5"><rect class="n" x="1503" y="3487" width="120" height="59" rx="8"/><text class="t" x="1563" y="3513.5">Vis den endelige<tspan x="1563" dy="14">blandingdprocent</tspan></text></g>
<g id="m6"><rect class="n" x="1503" y="3567" width="120" height="59" rx="8"/><text class="t" x="1563" y="3600.5">Vis glasstørrelsen</text></g>
<g id="m7"><rect class="n" x="1503" y="3647" width="120" height="59" rx="8"/><text class="t" x="1563" y="3673.5">Kør videre i<tspan x="1563" dy="14">programmet</tspan></text></g>
<!-- Ændr skærmen -->
<g id="a0"><ellipse class="n" cx="1945.5" cy="40" rx="58.5" ry="30"/><text class="t" x="1945.5" y="44">Ændr skærmen()</text></g>
<g id="a1"><rect class="n" x="1886" y="91" width="120" height="59" rx="8"/><text class="t" x="1946" y="117.5">Erstat flaske og glas<tspan x="1946" dy="14">med "(EDIT)"</tspan></text></g>
<g id="a2"><rect class="n" x="1886" y="171" width="120" height="59" rx="8"/><text class="t" x="1946" y="197.5">husk cifrene i<tspan x="1946" dy="14">volumen</tspan></text></g>
<g id="a3"><rect class="n" x="1886" y="251" width="120" height="59" rx="8"/><text class="t" x="1946" y="284.5">Opdater volumen()</text></g>
<g id="a4"><rect class="n" x="1885" y="331" width="120" height="59" rx="8"/><text class="t" x="1945" y="357.5">Husk cifrene i<tspan x="1945" dy="14">alkoholprocenten</tspan></text></g>
<g id="a5"><rect class="n" x="1885" y="411" width="120" height="59" rx="8"/><text class="t" x="1945" y="437.5">Opdater<tspan x="1945" dy="14">alkoholprocenten()</tspan></text></g>
<g id="a6"><rect class="n" x="1885" y="491" width="120" height="59" rx="8"/><text class="t" x="1945" y="524.5">Husk tiden</text></g>
<g id="a7"><polygon class="n" points="1945.5,571 2030,610.5 1945.5,650 1861,610.5"/><text class="t" x="1945.5" y="607.5">Er Δtiden større end<tspan x="1945.5" dy="14">blinkehastighed?</tspan></text></g>
<g id="a8"><rect class="n" x="2067" y="580" width="120" height="60" rx="8"/><text class="t" x="2127" y="600">Tiden tidligere øges<tspan x="2127" dy="14">med</tspan><tspan x="2127" dy="14">blinkehastigheden</tspan></text></g>
<g id="a9"><rect class="n" x="2067" y="670" width="120" height="60" rx="8"/><text class="t" x="2127" y="690">skift mellem<tspan x="2127" dy="14">inverterede tegn og</tspan><tspan x="2127" dy="14">normale tegn</tspan></text></g>
<g id="a10"><ellipse class="n" cx="2127" cy="780.5" rx="58.5" ry="29.5"/><text class="t" x="2127" y="784.5">Opdater volumen()</text></g>
<g id="a11"><ellipse class="n" cx="2128.5" cy="861" rx="58.5" ry="29.5"/><text class="t" x="2128.5" y="858">Opdater<tspan x="2128.5" dy="14">alkoholprocent()</tspan></text></g>
<g id="a12"><polygon class="n" points="1954.5,1021 2014,1051.5 1954.5,1082 1895,1051.5"/><text class="t" x="1954.5" y="1055.5">Er input 2?</text></g>
<g id="a13"><polygon class="n" points="2159,1006 2250,1051 2159,1096 2068,1051"/><text class="t" x="2159" y="1048">Er volumen valgt og er<tspan x="2159" dy="14">volumen under max?</tspan></text></g>
<g id="a14"><rect class="n" x="2281" y="1022" width="119" height="59" rx="8"/><text class="t" x="2340.5" y="1055.5">Øg volumen med 2</text></g>
<g id="a15"><polygon class="n" points="2340.5,1126 2400,1156 2340.5,1186 2281,1156"/><text class="t" x="2340.5" y="1153">Er volumen større<tspan x="2340.5" dy="14">end maks?</tspan></text></g>
<g id="a16"><rect class="n" x="2441" y="1126" width="119" height="60" rx="8"/><text class="t" x="2500.5" y="1160">Sæt volumen til maks</text></g>
<g id="a17"><rect class="n" x="2600" y="1182" width="120" height="60" rx="8"/><text class="t" x="2660" y="1209">Husk cifrene i<tspan x="2660" dy="14">volumen</tspan></text></g>
<g id="a18"><ellipse class="n" cx="2660" cy="1291.5" rx="58.5" ry="29.5"/><text class="t" x="2660" y="1295.5">Opdater volumen()</text></g>
<g id="a19"><polygon class="n" points="2159,1212 2250,1257 2159,1302 2068,1257"/><text class="t" x="2159" y="1247">Er Alkoholprocent valgt<tspan x="2159" dy="14">og er alkoholprocenten</tspan><tspan x="2159" dy="14">mindre end max?</tspan></text></g>
<g id="a20"><rect class="n" x="2281" y="1227" width="119" height="60" rx="8"/><text class="t" x="2340.5" y="1254">Øg alkoholprocenten<tspan x="2340.5" dy="14">med 1</tspan></text></g>
<g id="a21"><polygon class="n" points="2340.5,1332 2400,1362 2340.5,1392 2281,1362"/><text class="t" x="2340.5" y="1359">Er procenten<tspan x="2340.5" dy="14">større end maks?</tspan></text></g>
<g id="a22"><rect class="n" x="2441" y="1332" width="119" height="60" rx="8"/><text class="t" x="2500.5" y="1359">Sæt procenten til<tspan x="2500.5" dy="14">maks</tspan></text></g>
<g id="a23"><rect class="n" x="2441" y="1411" width="119" height="60" rx="8"/><text class="t" x="2500.5" y="1438">Husk cifrene i<tspan x="2500.5" dy="14">procenten</tspan></text></g>
<g id="a24"><ellipse class="n" cx="2501" cy="1521.5" rx="58" ry="29.5"/><text class="t" x="2501" y="1518.5">Opdater<tspan x="2501" dy="14">alkoholprocent()</tspan></text></g>
<g id="a25"><polygon class="n" points="1956,1601 2016,1631 1956,1661 1896,1631"/><text class="t" x="1956" y="1635">Er input 8?</text></g>
<g id="a26"><polygon class="n" points="2160,1587 2251,1631 2160,1675 2069,1631"/><text class="t" x="2160" y="1628">Er volumen valgt og er<tspan x="2160" dy="14">volumen over 2?</tspan></text></g>
<g id="a27"><rect class="n" x="2282" y="1602" width="119" height="59" rx="8"/><text class="t" x="2341.5" y="1628.5">formindsk volumen<tspan x="2341.5" dy="14">med 2</tspan></text></g>
<g id="a28"><polygon class="n" points="2341.5,1707 2401,1736.5 2341.5,1766 2282,1736.5"/><text class="t" x="2341.5" y="1733.5">Er volumen<tspan x="2341.5" dy="14">mindre end 2?</tspan></text></g>
<g id="a29"><rect class="n" x="2442" y="1707" width="119" height="59" rx="8"/><text class="t" x="2501.5" y="1740.5">Sæt volumen til 2</text></g>
<g id="a30"><rect class="n" x="2602" y="1762" width="119" height="59" rx="8"/><text class="t" x="2661.5" y="1788.5">Husk cifrene i<tspan x="2661.5" dy="14">volumen</tspan></text></g>
<g id="a31"><ellipse class="n" cx="2662" cy="1871" rx="58" ry="29"/><text class="t" x="2662" y="1875">Opdater volumen()</text></g>
<g id="a32"><polygon class="n" points="2160,1792 2251,1836 2160,1880 2069,1836"/><text class="t" x="2160" y="1826">Er Alkoholprocent valgt<tspan x="2160" dy="14">og er alkoholprocenten</tspan><tspan x="2160" dy="14">større end 0?</tspan></text></g>
<g id="a33"><rect class="n" x="2282" y="1807" width="119" height="59" rx="8"/><text class="t" x="2341.5" y="1826.5">Formindsk<tspan x="2341.5" dy="14">alkoholprocenten</tspan><tspan x="2341.5" dy="14">med 1</tspan></text></g>
<g id="a34"><polygon class="n" points="2341.5,1912.5 2401,1942 2341.5,1971.5 2282,1942"/><text class="t" x="2341.5" y="1939">Er procenten<tspan x="2341.5" dy="14">mindren end 0?</tspan></text></g>
<g id="a35"><rect class="n" x="2442" y="1912.5" width="119" height="59" rx="8"/><text class="t" x="2501.5" y="1946">Sæt procenten til 0</text></g>
<g id="a36"><rect class="n" x="2442" y="1992" width="119" height="59" rx="8"/><text class="t" x="2501.5" y="2018.5">Husk cifrene i<tspan x="2501.5" dy="14">procenten</tspan></text></g>
<g id="a37"><ellipse class="n" cx="2501.5" cy="2102" rx="58.5" ry="30"/><text class="t" x="2501.5" y="2099">Opdater<tspan x="2501.5" dy="14">alkoholprocent()</tspan></text></g>
<g id="a38"><polygon class="n" points="1956,2181.5 2016,2211.5 1956,2241.5 1896,2211.5"/><text class="t" x="1956" y="2215.5">Er input 4 eller 6?</text></g>
<g id="a39"><ellipse class="n" cx="2160.5" cy="2211.5" rx="58.5" ry="29.5"/><text class="t" x="2160.5" y="2215.5">Vend tegn tilbage()</text></g>
<g id="a40"><rect class="n" x="2101" y="2262" width="119" height="59" rx="8"/><text class="t" x="2160.5" y="2281.5">Skift mellem om<tspan x="2160.5" dy="14">alkoholprocent eller</tspan><tspan x="2160.5" dy="14">volumen er valgt</tspan></text></g>
<g id="a41"><polygon class="n" points="2160.5,2342 2220,2371.5 2160.5,2401 2101,2371.5"/><text class="t" x="2160.5" y="2375.5">Er volumen valgt?</text></g>
<g id="a42"><ellipse class="n" cx="2329" cy="2371.5" rx="58.5" ry="29.5"/><text class="t" x="2329" y="2368.5">Opdater<tspan x="2329" dy="14">alkoholprocent()</tspan></text></g>
<g id="a43"><ellipse class="n" cx="2160.5" cy="2471" rx="58.5" ry="30"/><text class="t" x="2160.5" y="2475">Opdater volumen()</text></g>
<g id="a44"><polygon class="n" points="1957,2552 2016,2581.5 1957,2611 1898,2581.5"/><text class="t" x="1957" y="2585.5">Er input E?</text></g>
<g id="a45"><rect class="n" x="2099" y="2552" width="120" height="59" rx="8"/><text class="t" x="2159" y="2578.5">Gem volumen i<tspan x="2159" dy="14">EEPROM</tspan></text></g>
<g id="a46"><rect class="n" x="2099" y="2632" width="120" height="59" rx="8"/><text class="t" x="2159" y="2651.5">Gem<tspan x="2159" dy="14">Alkoholprocenten i</tspan><tspan x="2159" dy="14">EEPROM</tspan></text></g>
<g id="a47"><rect class="n" x="2099" y="2712" width="120" height="59" rx="8"/><text class="t" x="2159" y="2731.5">Læs<tspan x="2159" dy="14">alkoholprocenterne</tspan><tspan x="2159" dy="14">fra EEPROM</tspan></text></g>
<g id="a48"><ellipse class="n" cx="2159" cy="2818.5" rx="58.5" ry="29.5"/><text class="t" x="2159" y="2822.5">Standard-tegn()</text></g>
<g id="a49"><rect class="n" x="2099" y="2865" width="120" height="59" rx="8"/><text class="t" x="2159" y="2898.5">Forlad funktionen</text></g>
<!-- Opdater volumen -->
<g id="ov0"><ellipse class="n" cx="1971" cy="3006.5" rx="58" ry="29.5"/><text class="t" x="1971" y="3003.5">Opdater<tspan x="1971" dy="14">alkholprocent()</tspan></text></g>
<g id="ov1"><polygon class="n" points="1971,3052 2049,3096 1971,3140 1893,3096"/><text class="t" x="1971" y="3093">Er inverterede tegn sand<tspan x="1971" dy="14">og volumen aktiv?</tspan></text></g>
<g id="ov2"><rect class="n" x="2090" y="3067" width="120" height="60" rx="8"/><text class="t" x="2150" y="3094">Find inverterede<tspan x="2150" dy="14">tegn()</tspan></text></g>
<g id="ov3"><rect class="n" x="1911" y="3168.5" width="119" height="60" rx="8"/><text class="t" x="1970.5" y="3195.5">Vis volumen på<tspan x="1970.5" dy="14">skærmen</tspan></text></g>
<g id="ov4"><rect class="n" x="2089" y="3168.5" width="120" height="60" rx="8"/><text class="t" x="2149" y="3195.5">Vis tegnene på<tspan x="2149" dy="14">skærmen</tspan></text></g>
<g id="ov5"><rect class="n" x="1911" y="3270" width="120" height="61" rx="8"/><text class="t" x="1971" y="3297.5">Kør videre i<tspan x="1971" dy="14">programmet</tspan></text></g>
<!-- Opdater alkoholprocenten -->
<g id="oa0"><ellipse class="n" cx="2522.5" cy="3006.5" rx="58" ry="29.5"/><text class="t" x="2522.5" y="3003.5">Opdater<tspan x="2522.5" dy="14">alkholprocent()</tspan></text></g>
<g id="oa1"><polygon class="n" points="2522.5,3052 2600.5,3096 2522.5,3140 2444.5,3096"/><text class="t" x="2522.5" y="3093">Er inverterede tegn sand<tspan x="2522.5" dy="14">og procenten aktiv?</tspan></text></g>
<g id="oa2"><rect class="n" x="2642" y="3067" width="120" height="60" rx="8"/><text class="t" x="2702" y="3094">Find inverterede<tspan x="2702" dy="14">tegn()</tspan></text></g>
<g id="oa3"><rect class="n" x="2462" y="3168.5" width="119" height="60" rx="8"/><text class="t" x="2521.5" y="3195.5">Vis procenten på<tspan x="2521.5" dy="14">skærmen</tspan></text></g>
<g id="oa4"><rect class="n" x="2641" y="3168.5" width="119" height="60" rx="8"/><text class="t" x="2700.5" y="3195.5">Vis tegnene på<tspan x="2700.5" dy="14">skærmen</tspan></text></g>
<g id="oa5"><rect class="n" x="2462" y="3270" width="120" height="61" rx="8"/><text class="t" x="2522" y="3297.5">Kør videre i<tspan x="2522" dy="14">programmet</tspan></text></g>
<!-- Skift skærm mod højre -->
<g id="sh0"><ellipse class="n" cx="1993" cy="3408.5" rx="58" ry="29.5"/><text class="t" x="1993" y="3405.5">Vis skift skærm mod<tspan x="1993" dy="14">højre()</tspan></text></g>
<g id="sh1"><rect class="n" x="1934" y="3459" width="119" height="59" rx="8"/><text class="t" x="1993.5" y="3485.5">Øg skærmtypen med<tspan x="1993.5" dy="14">1</tspan></text></g>
<g id="sh2"><rect class="n" x="1934" y="3538" width="119" height="60" rx="8"/><text class="t" x="1993.5" y="3572">Er skærmtypen 3?</text></g>
<g id="sh3"><rect class="n" x="2113" y="3538" width="120" height="60" rx="8"/><text class="t" x="2173" y="3565">Formindsk<tspan x="2173" dy="14">skærmtypen med 2</tspan></text></g>
<g id="sh4"><rect class="n" x="1934" y="3641" width="119" height="59" rx="8"/><text class="t" x="1993.5" y="3674.5">Check skærmen()</text></g>
<!-- Skift skærm mod venstre -->
<g id="sv0"><ellipse class="n" cx="2568" cy="3391.5" rx="58" ry="29.5"/><text class="t" x="2568" y="3388.5">Vis skift skærm mod<tspan x="2568" dy="14">venstre()</tspan></text></g>
<g id="sv1"><rect class="n" x="2507" y="3440" width="120" height="59" rx="8"/><text class="t" x="2567" y="3466.5">Formindsk<tspan x="2567" dy="14">skærmtypen med 1</tspan></text></g>
<g id="sv2"><polygon class="n" points="2568,3521 2627.5,3551 2568,3581 2508.5,3551"/><text class="t" x="2568" y="3548">Er skærmtypen<tspan x="2568" dy="14">0?</tspan></text></g>
<g id="sv3"><rect class="n" x="2676" y="3521" width="120" height="60" rx="8"/><text class="t" x="2736" y="3548">Øg  skærmtypen med<tspan x="2736" dy="14">2</tspan></text></g>
<g id="sv4"><rect class="n" x="2508" y="3621.5" width="120" height="59" rx="8"/><text class="t" x="2568" y="3655">Check skærmen()</text></g>
</svg>
